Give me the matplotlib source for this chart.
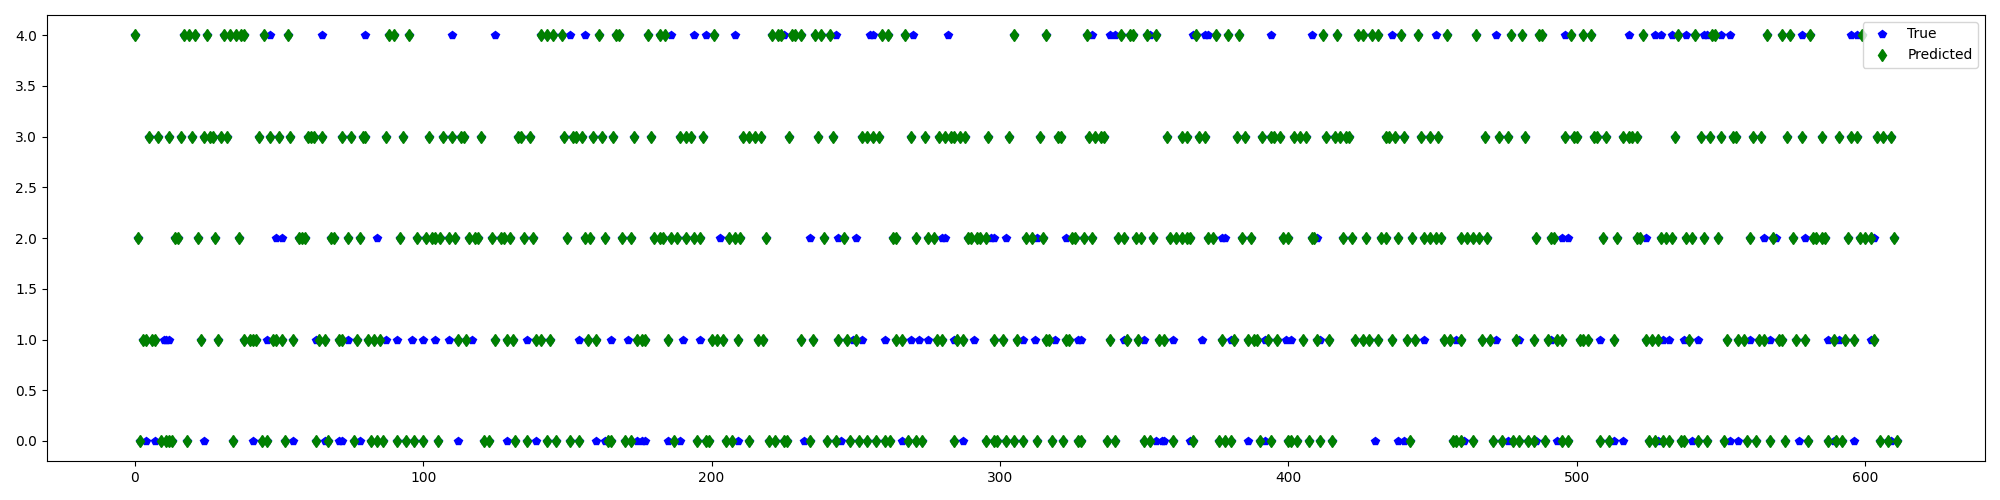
import numpy as np
import matplotlib
matplotlib.use('Agg')
import matplotlib.pyplot as plt

# sample indices where the model predicted each class
pred_0 = [2, 9, 11, 12, 13, 18, 34, 44, 46, 52, 63, 67, 76,
          82, 84, 86, 91, 94, 97, 100, 105, 121, 123, 132, 136, 143, 146, 151, 154,
          164, 165, 170, 172, 187, 195, 198, 199, 205, 207, 213, 220, 222, 225, 226, 234,
          240, 243, 248, 251, 254, 257, 260, 262, 268, 271, 273, 284, 295, 298, 299, 302, 305, 308, 313,
          318, 322, 327, 328, 337, 340, 350, 352, 360, 367, 376, 378, 380, 390, 394,
          400, 401, 403, 407, 411, 415, 442, 457, 458, 460, 464, 471, 474,
          478, 480, 483, 485, 489, 495, 497, 508, 511, 525, 527, 530, 532, 536, 537, 542, 545, 551,
          559, 562, 567, 572, 580, 587, 590, 592, 605, 608, 611]
pred_1 = [3, 4, 6, 7, 23, 29, 38, 40, 41, 42, 48, 49, 51, 55, 64, 66, 71, 72, 77,
          81, 83, 85, 112, 115, 125, 129, 131, 139, 141, 144, 157,
          160, 174, 176, 177, 185, 200, 202, 204, 209, 216, 218, 231, 235,
          244, 247, 250, 264, 266, 278, 280, 285, 287, 298, 301, 306, 316,
          317, 323, 324, 338, 344, 348, 355, 357, 377, 381, 386, 388, 389, 393,
          396, 405, 410, 414, 423, 426, 428, 431, 436, 441, 444, 454, 456, 460, 467, 470,
          479, 485, 490, 493, 495, 501, 502, 504, 513, 524, 526, 528, 539, 552, 556,
          558, 563, 565, 570, 571, 576, 579, 589, 593, 596, 603]
pred_2 = [1, 14, 15, 22, 28, 36, 57, 58, 59, 68, 69, 74, 78,
          92, 98, 101, 103, 104, 106, 109, 111, 116, 118, 119, 124, 127, 128, 130, 135, 138, 150,
          156, 158, 163, 169, 172, 180, 182, 183, 186, 188, 191, 194, 196, 206, 208, 210, 219,
          239, 246, 263, 264, 271, 275, 277, 289, 290, 292, 293, 295, 309, 311, 315,
          325, 326, 329, 332, 341, 343, 347, 349, 353, 359, 361, 363, 365, 366, 372, 374, 384, 387,
          398, 400, 408, 409, 419, 422, 427, 432, 434, 438, 443, 447, 449, 451, 453, 460, 462, 464, 466, 469,
          486, 491, 492, 509, 514, 521, 522, 529, 531, 533, 538, 540, 544, 549,
          560, 568, 575, 582, 583, 585, 586, 594, 598, 600, 602, 610]
pred_3 = [5, 8, 12, 16, 20, 24, 26, 27, 30, 32, 43, 47, 50, 54, 60, 61, 62, 65, 72, 75,
          79, 80, 87, 93, 102, 107, 110, 113, 114, 120, 133, 134, 137, 149, 152, 153, 155,
          159, 162, 166, 173, 179, 189, 191, 193, 197, 211, 213, 215, 217, 227, 237,
          242, 252, 254, 256, 258, 269, 274, 279, 281, 283, 284, 286, 288, 296, 303, 314,
          320, 321, 331, 333, 335, 336, 358, 363, 365, 369, 371, 382, 385, 391, 394, 395,
          397, 402, 404, 406, 413, 416, 418, 420, 421, 434, 435, 437, 440, 446, 449, 452, 468, 473, 476,
          482, 496, 499, 500, 506, 507, 510, 516, 518, 519, 521, 534, 543, 546, 550, 554, 555,
          561, 564, 573, 578, 585, 591, 595, 597, 604, 606, 609]
pred_4 = [0, 17, 19, 21, 25, 31, 33, 35, 37, 38, 45, 53,
          88, 90, 95, 141, 143, 145, 148,
          161, 167, 168, 178, 182, 184, 201, 221, 223, 224, 228, 229, 231, 236,
          238, 241, 259, 261, 267, 305, 316,
          330, 342, 345, 346, 351, 354, 368, 375, 379, 383,
          412, 417, 424, 426, 429, 431, 439, 445, 455, 465, 477,
          481, 487, 488, 498, 502, 505, 523, 535, 541, 547, 548,
          566, 571, 574, 581, 599]

# indices where the true class differs from the prediction (blue only)
miss_0 = [4, 7, 24, 41, 55, 66, 71, 72, 78, 112, 129, 139, 160, 163, 174, 176, 177, 185,
          189, 209, 232, 245, 266, 287, 354, 356, 357, 366, 386, 392, 430, 438, 440, 461,
          476, 486, 493, 513, 516, 528, 540, 553, 556, 577, 589, 596, 609]
miss_1 = [10, 11, 12, 46, 63, 74, 87, 91, 96, 100, 104, 109, 117, 136, 154, 165, 171, 190,
          196, 249, 252, 260, 269, 272, 275, 284, 291, 308, 312, 319, 327, 328, 343, 350,
          360, 370, 380, 392, 399, 401, 411, 447, 458, 472, 480, 491, 508, 530, 532, 537,
          542, 560, 567, 587, 591, 602]
miss_2 = [49, 51, 84, 203, 234, 244, 250, 280, 281, 297, 298, 302, 313, 323, 377, 378, 410,
          495, 497, 524, 565, 569, 579, 603]
miss_3 = []
miss_4 = [47, 65, 80, 110, 125, 151, 156, 186, 194, 198, 208, 225, 243, 255, 256, 270, 282,
          332, 338, 340, 352, 367, 371, 372, 394, 408, 436, 451, 472, 496, 518, 527, 529,
          533, 538, 544, 545, 550, 553, 578, 595, 597]

preds = [pred_0, pred_1, pred_2, pred_3, pred_4]
misses = [miss_0, miss_1, miss_2, miss_3, miss_4]

x_pred = np.concatenate([np.array(p) for p in preds])
y_pred = np.concatenate([np.full(len(p), k, dtype=float) for k, p in enumerate(preds)])

true_lists = [p + m for p, m in zip(preds, misses)]
x_true = np.concatenate([np.array(t) for t in true_lists])
y_true = np.concatenate([np.full(len(t), k, dtype=float) for k, t in enumerate(true_lists)])

plt.figure(figsize=(20, 5), dpi=100)
plt.plot(x_true, y_true, 'bp', label='True')
plt.plot(x_pred, y_pred, 'gd', label='Predicted')
plt.xlim(-30.5, 641.5)
plt.legend()
plt.tight_layout()
plt.savefig('out.png')
